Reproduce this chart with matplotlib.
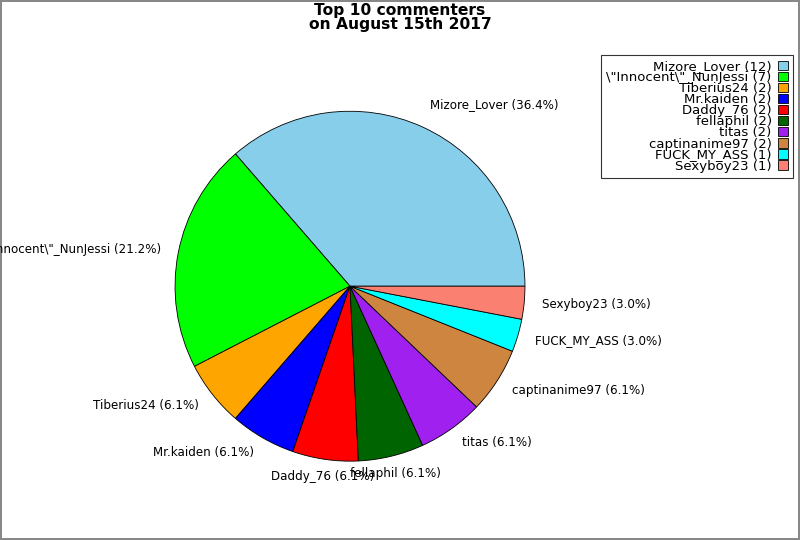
import matplotlib
matplotlib.use('Agg')
import matplotlib.pyplot as plt

# 评论者与评论数
names = ['Mizore_Lover', '\\"Innocent\\"_NunJessi', 'Tiberius24', 'Mr.kaiden',
         'Daddy_76', 'fellaphil', 'titas', 'captinanime97', 'FUCK_MY_ASS', 'Sexyboy23']
counts = [12, 7, 2, 2, 2, 2, 2, 2, 1, 1]
colors = ['skyblue', 'lime', 'orange', 'blue', 'red', 'darkgreen',
          '#a020f0', 'peru', 'cyan', 'salmon']

total = sum(counts)
pie_labels = ['%s (%.1f%%)' % (n, c * 100.0 / total) for n, c in zip(names, counts)]
legend_labels = ['%s (%d)' % (n, c) for n, c in zip(names, counts)]

fig = plt.figure(figsize=(8, 5.4), dpi=100)
fig.patch.set_edgecolor('#888888')
fig.patch.set_linewidth(1.5)

ax = fig.add_axes([0.164, 0.065, 0.547, 0.81])
wedges, texts = ax.pie(counts, labels=pie_labels, colors=colors,
                       wedgeprops={'edgecolor': 'black', 'linewidth': 0.6},
                       textprops={'fontsize': 8.6})
ax.set_aspect('equal')

# 标签对齐微调：顶部的标签放在锚点上方，底部接近竖直的居中
texts[0].set_va('bottom')
texts[4].set_ha('center')
texts[5].set_ha('center')

fig.suptitle('Top 10 commenters\non August 15th 2017', fontsize=11.2,
             fontweight='bold', y=0.995, linespacing=0.9)

leg = fig.legend(wedges, legend_labels, loc='upper right', bbox_to_anchor=(0.991, 0.898),
                 markerfirst=False, fancybox=False, edgecolor='black',
                 fontsize=9.5, labelspacing=-0.15, handlelength=0.7,
                 handleheight=0.7, handletextpad=0.5, borderpad=0.4,
                 borderaxespad=0.0)
leg.get_frame().set_linewidth(0.8)
for t in leg.get_texts():
    t.set_ha('right')

fig.savefig('out.png', dpi=100, edgecolor=fig.get_edgecolor())
